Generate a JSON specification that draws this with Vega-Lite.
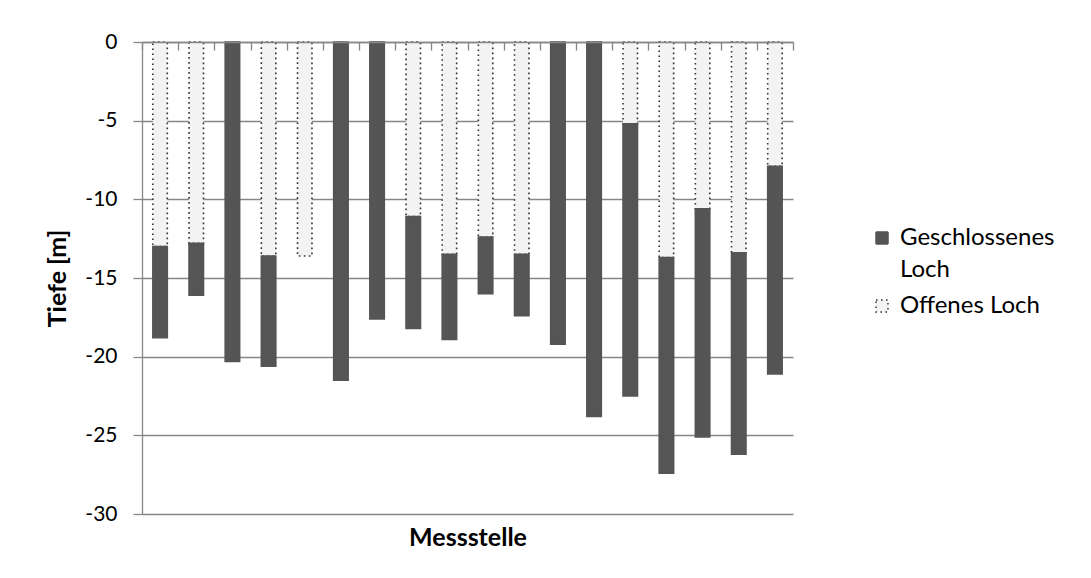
{
  "$schema": "https://vega.github.io/schema/vega-lite/v6.json",
  "width": 651,
  "height": 472,
  "autosize": {"type": "none"},
  "padding": {"left": 142, "top": 42, "right": 298, "bottom": 64},
  "background": "white",
  "config": {
    "font": "Lato",
    "view": {"stroke": null},
    "axis": {"labelColor": "black", "titleColor": "black", "labelFont": "Lato", "titleFont": "Lato"},
    "style": {"guide-label": {"lineHeight": 32}}
  },
  "data": {
    "values": [
      {"Messstelle": 1, "Typ": "Offenes Loch", "Tiefe": -13.0},
      {"Messstelle": 1, "Typ": "Geschlossenes Loch", "Tiefe": -5.8},
      {"Messstelle": 2, "Typ": "Offenes Loch", "Tiefe": -12.8},
      {"Messstelle": 2, "Typ": "Geschlossenes Loch", "Tiefe": -3.3},
      {"Messstelle": 3, "Typ": "Geschlossenes Loch", "Tiefe": -20.3},
      {"Messstelle": 4, "Typ": "Offenes Loch", "Tiefe": -13.6},
      {"Messstelle": 4, "Typ": "Geschlossenes Loch", "Tiefe": -7.0},
      {"Messstelle": 5, "Typ": "Offenes Loch", "Tiefe": -13.6},
      {"Messstelle": 6, "Typ": "Geschlossenes Loch", "Tiefe": -21.5},
      {"Messstelle": 7, "Typ": "Geschlossenes Loch", "Tiefe": -17.6},
      {"Messstelle": 8, "Typ": "Offenes Loch", "Tiefe": -11.1},
      {"Messstelle": 8, "Typ": "Geschlossenes Loch", "Tiefe": -7.1},
      {"Messstelle": 9, "Typ": "Offenes Loch", "Tiefe": -13.5},
      {"Messstelle": 9, "Typ": "Geschlossenes Loch", "Tiefe": -5.4},
      {"Messstelle": 10, "Typ": "Offenes Loch", "Tiefe": -12.4},
      {"Messstelle": 10, "Typ": "Geschlossenes Loch", "Tiefe": -3.6},
      {"Messstelle": 11, "Typ": "Offenes Loch", "Tiefe": -13.5},
      {"Messstelle": 11, "Typ": "Geschlossenes Loch", "Tiefe": -3.9},
      {"Messstelle": 12, "Typ": "Geschlossenes Loch", "Tiefe": -19.2},
      {"Messstelle": 13, "Typ": "Geschlossenes Loch", "Tiefe": -23.8},
      {"Messstelle": 14, "Typ": "Offenes Loch", "Tiefe": -5.2},
      {"Messstelle": 14, "Typ": "Geschlossenes Loch", "Tiefe": -17.3},
      {"Messstelle": 15, "Typ": "Offenes Loch", "Tiefe": -13.7},
      {"Messstelle": 15, "Typ": "Geschlossenes Loch", "Tiefe": -13.7},
      {"Messstelle": 16, "Typ": "Offenes Loch", "Tiefe": -10.6},
      {"Messstelle": 16, "Typ": "Geschlossenes Loch", "Tiefe": -14.5},
      {"Messstelle": 17, "Typ": "Offenes Loch", "Tiefe": -13.4},
      {"Messstelle": 17, "Typ": "Geschlossenes Loch", "Tiefe": -12.8},
      {"Messstelle": 18, "Typ": "Offenes Loch", "Tiefe": -7.9},
      {"Messstelle": 18, "Typ": "Geschlossenes Loch", "Tiefe": -13.2}
    ]
  },
  "mark": {"type": "bar", "strokeWidth": 1.6, "width": {"band": 0.4}},
  "encoding": {
    "x": {
      "field": "Messstelle",
      "type": "ordinal",
      "scale": {"paddingInner": 0, "paddingOuter": 0},
      "axis": {
        "orient": "bottom",
        "offset": -472,
        "zindex": 1,
        "labels": false,
        "ticks": true,
        "title": "Messstelle",
        "titleY": 483,
        "titleBaseline": "top",
        "titleFontSize": 25,
        "titleFontWeight": "bold",
        "domainColor": "#868686",
        "domainWidth": 1.3,
        "tickColor": "#868686",
        "tickWidth": 1.3,
        "tickSize": 8,
        "tickBand": "extent",
        "grid": false
      }
    },
    "y": {
      "field": "Tiefe",
      "type": "quantitative",
      "stack": "zero",
      "scale": {"domain": [-30, 0], "nice": false},
      "axis": {
        "values": [-30, -25, -20, -15, -10, -5, 0],
        "labelExpr": "'' + datum.value",
        "title": "Tiefe [m]",
        "titleFontSize": 25,
        "titleFontWeight": "bold",
        "titleX": -72,
        "labelFontSize": 21,
        "labelPadding": 16,
        "tickSize": 9,
        "tickColor": "#868686",
        "tickWidth": 1.3,
        "domainColor": "#868686",
        "domainWidth": 1.3,
        "gridColor": "#868686",
        "gridWidth": 1.3,
        "gridOpacity": 1
      }
    },
    "color": {
      "field": "Typ",
      "type": "nominal",
      "scale": {"domain": ["Geschlossenes Loch", "Offenes Loch"], "range": ["#555555", "#f3f3f3"]},
      "legend": {
        "title": null,
        "orient": "none",
        "legendX": 728,
        "legendY": 184,
        "padding": 0,
        "labelFontSize": 24,
        "labelColor": "black",
        "labelLimit": 300,
        "labelOffset": 6,
        "rowPadding": 12,
        "symbolType": "square",
        "symbolSize": 144,
        "labelExpr": "datum.label == 'Geschlossenes Loch' ? ['Geschlossenes', 'Loch'] : datum.label"
      }
    },
    "stroke": {
      "field": "Typ",
      "type": "nominal",
      "scale": {"domain": ["Geschlossenes Loch", "Offenes Loch"], "range": ["#555555", "#333333"]},
      "legend": null
    },
    "strokeDash": {
      "field": "Typ",
      "type": "nominal",
      "scale": {"domain": ["Geschlossenes Loch", "Offenes Loch"], "range": [[1, 0], [1.6, 3.4]]},
      "legend": null
    },
    "order": {"field": "Typ", "sort": "descending"}
  }
}
